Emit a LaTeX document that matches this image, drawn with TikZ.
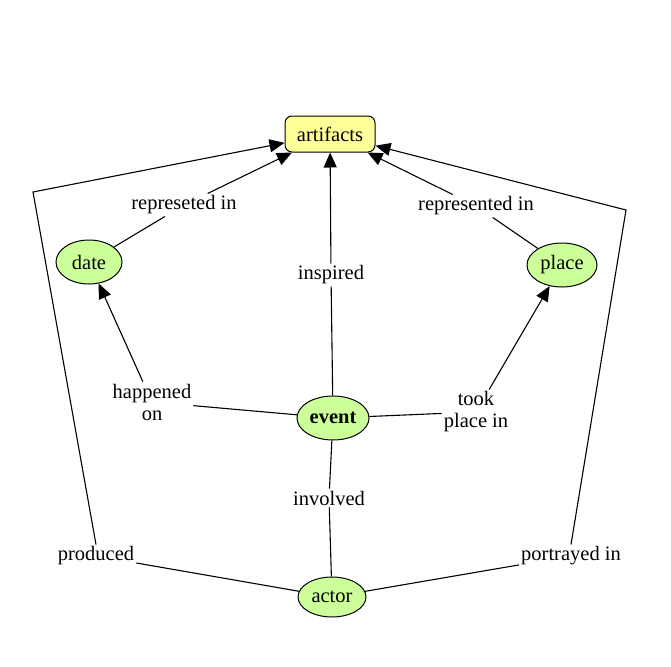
\documentclass[tikz,border=0pt]{standalone}
\usepackage{fontspec}
\setmainfont{Liberation Serif}
\usetikzlibrary{arrows.meta,shapes.geometric}
\definecolor{conceptgreen}{RGB}{204,255,153}
\definecolor{rootyellow}{RGB}{255,255,153}
\begin{document}
\begin{tikzpicture}[x=1pt,y=-1pt,
  every node/.style={font=\fontsize{20.5}{22}\selectfont},
  concept/.style={ellipse,draw,fill=conceptgreen,inner sep=1pt,line width=1pt},
  rootbox/.style={rectangle,rounded corners=7pt,draw,fill=rootyellow,minimum width=90pt,minimum height=36pt,line width=1pt},
  linkword/.style={align=center,inner sep=2pt},
  link/.style={line width=1.1pt},
  arrowlink/.style={link,-{Triangle[length=15pt,width=13pt]}}
]
\useasboundingbox (0,0) rectangle (671,666);
% concepts
\node[rootbox] (art) at (330,134) {artifacts};
\node[concept,minimum width=66pt,minimum height=44pt] (date) at (89,262) {date};
\node[concept,minimum width=70pt,minimum height=44pt] (place) at (562,265) {place};
\node[concept,minimum width=72pt,minimum height=44pt,font=\fontsize{20.5}{22}\selectfont\bfseries] (event) at (333,418) {event};
\node[concept,minimum width=68pt,minimum height=40pt] (actor) at (332,597) {actor};
% linking phrases
\node[linkword] (rdate) at (184,205) {represeted in};
\node[linkword] (rplace) at (476,206) {represented in};
\node[linkword] (insp) at (331,275) {inspired};
\node[linkword] (happ) at (152,402) {happened\\on};
\node[linkword] (took) at (476,412) {took\\place in};
\node[linkword] (invol) at (329,498) {involved};
\node[linkword] (prod) at (96,556) {produced};
\node[linkword] (portr) at (571,556) {portrayed in};
% bends of the outer links
\coordinate (lcorner) at (33,192);
\coordinate (rcorner) at (626,210);
% links
\draw[link] (date) -- (rdate);
\draw[arrowlink] (rdate) -- (art);
\draw[link] (place) -- (rplace);
\draw[arrowlink] (rplace) -- (art);
\draw[link] (event) -- (insp);
\draw[arrowlink] (insp) -- (art);
\draw[link] (event) -- (happ);
\draw[arrowlink] (happ) -- (date);
\draw[link] (event) -- (took);
\draw[arrowlink] (took) -- (place);
\draw[link] (actor) -- (invol);
\draw[link] (invol) -- (event);
\draw[link] (actor) -- (prod);
\draw[arrowlink] (prod.north) -- (lcorner) -- (art);
\draw[link] (actor) -- (portr);
\draw[arrowlink] (portr.north) -- (rcorner) -- (art);
\end{tikzpicture}
\end{document}
